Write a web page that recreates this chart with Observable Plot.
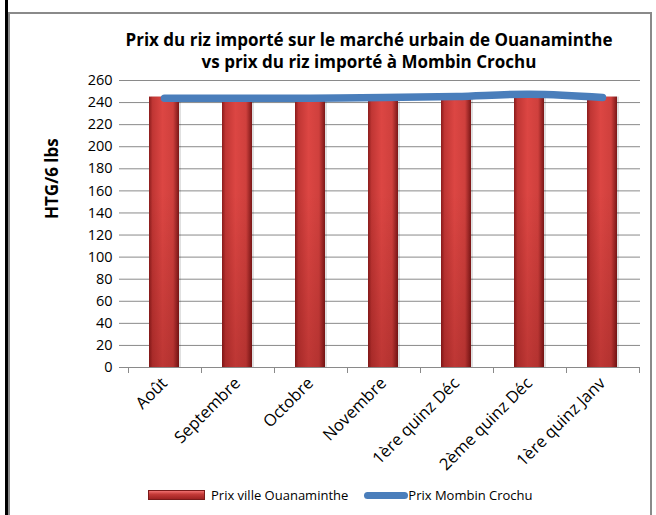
<!DOCTYPE html>
<html>
<head>
<meta charset="utf-8">
<script src="https://cdn.jsdelivr.net/npm/d3@7"></script>
<script src="https://cdn.jsdelivr.net/npm/@observablehq/plot@0.6"></script>
<style>
  html, body { margin: 0; padding: 0; background: #fff; }
  #wrap { position: relative; width: 656px; height: 515px; overflow: hidden; font-family: "Open Sans", Lato, sans-serif; }
  #blackedge { position: absolute; left: 5px; top: 0; width: 3px; height: 515px; background: #000; }
  #frame { position: absolute; left: 8px; top: 12px; width: 644px; height: 540px; border: 2px solid #8a8a8a; box-sizing: border-box; }
  #title { position: absolute; left: 84px; width: 570px; top: 29px; text-align: center; font-weight: bold; font-size: 17px; line-height: 22px; color: #000; }
  #chart { position: absolute; left: 0; top: 0; }
  #legend { position: absolute; top: 486px; left: 148px; font-size: 13px; color: #000; display: flex; align-items: center; white-space: nowrap; }
  .sw-bar { width: 57px; height: 10px; background: linear-gradient(#f07070, #c43a38 40%, #9e2222); border: 1px solid #7a1a1a; box-sizing: border-box; margin-right: 6px; }
  .sw-line { width: 44px; height: 7px; background: #4a7ebb; border-radius: 4px; margin-left: 16px; margin-right: 0; }
</style>
</head>
<body>
<div id="wrap">
  <div id="blackedge"></div>
  <div id="frame"></div>
  <div id="chart"></div>
  <div id="title">Prix du riz importé sur le marché urbain de Ouanaminthe<br>vs prix du riz importé à Mombin Crochu</div>
  <div id="legend">
    <span class="sw-bar"></span><span>Prix ville Ouanaminthe</span>
    <span class="sw-line"></span><span>Prix Mombin Crochu</span>
  </div>
</div>
<script>
const categories = ["Août", "Septembre", "Octobre", "Novembre", "1ère quinz Déc", "2ème quinz Déc", "1ère quinz Janv"];
const prixOuanaminthe = [245, 244, 244, 244, 244, 245, 245];
const prixMombin = [244, 244, 244, 244.5, 245.5, 247.5, 244.5];
const yTicks = [0, 20, 40, 60, 80, 100, 120, 140, 160, 180, 200, 220, 240, 260];

const data = categories.map((c, i) => ({cat: c, ouana: prixOuanaminthe[i], mombin: prixMombin[i]}));

const defsMark = () => {
  const svg = d3.create("svg:defs");
  const g = svg.append("linearGradient").attr("id", "barGrad").attr("x1", 0).attr("x2", 1).attr("y1", 0).attr("y2", 0);
  [[0, "#8a1c1c"], [0.12, "#c03634"], [0.45, "#dc4643"], [0.8, "#cf403d"], [1, "#7a1717"]]
    .forEach(([o, c]) => g.append("stop").attr("offset", o).attr("stop-color", c));
  const s = svg.append("linearGradient").attr("id", "barShade").attr("x1", 0).attr("x2", 0).attr("y1", 0).attr("y2", 1);
  [[0, "rgba(80,0,0,0)"], [0.35, "rgba(80,0,0,0)"], [1, "rgba(80,0,0,0.22)"]]
    .forEach(([o, c]) => s.append("stop").attr("offset", o).attr("stop-color", c));
  return svg.node();
};

const boundaryTicks = (index, scales) => {
  const x = scales.x, y = scales.y;
  const step = x.step();
  const g = d3.create("svg:g").attr("stroke", "#8a8a8a").attr("stroke-width", 1);
  const y0 = y(0);
  const left = x(categories[0]) - (step - x.bandwidth()) / 2;
  for (let i = 0; i <= categories.length; i++) {
    const px = Math.round(left + i * step) + 0.5;
    g.append("line").attr("x1", px).attr("x2", px).attr("y1", y0).attr("y2", y0 + 6);
  }
  g.append("line").attr("x1", left).attr("x2", left + categories.length * step).attr("y1", y0 + 0.5).attr("y2", y0 + 0.5);
  return g.node();
};

const chart = Plot.plot({
  width: 656,
  height: 470,
  marginLeft: 125,
  marginRight: 16,
  marginTop: 80,
  marginBottom: 103,
  style: {background: "transparent", fontFamily: "'Open Sans', Lato, sans-serif", fontSize: "14px", color: "#000", overflow: "visible"},
  x: {domain: categories, paddingInner: 0.59, paddingOuter: 0.295, label: null},
  y: {domain: [0, 260], ticks: yTicks, label: null},
  marks: [
    defsMark,
    Plot.gridY(yTicks, {stroke: "#8a8a8a", strokeOpacity: 1, strokeWidth: 1}),
    Plot.axisY(yTicks, {tickSize: 6, tickPadding: 7, stroke: "#8a8a8a", fill: "#000", fontSize: 14.5, tickFormat: d => d}),
    Plot.text(["HTG/6 lbs"], {frameAnchor: "left", dx: -73, dy: -5, rotate: -90, fontWeight: "bold", fontSize: 17, fill: "#000"}),
    Plot.barY(data, {x: "cat", y: "ouana", fill: "#000", fillOpacity: 0.12, dx: 2}),
    Plot.barY(data, {x: "cat", y: "ouana", fill: "url(#barGrad)"}),
    Plot.barY(data, {x: "cat", y: "ouana", fill: "url(#barShade)"}),
    boundaryTicks,
    Plot.line(data, {x: "cat", y: "mombin", stroke: "#4a7ebb", strokeWidth: 7.5, strokeLinecap: "round", curve: "catmull-rom"}),
    Plot.axisX({tickSize: 0, tickRotate: -45, tickPadding: 13, fontSize: 16.5, fill: "#000", label: null})
  ]
});
document.getElementById("chart").appendChild(chart);
</script>
</body>
</html>
